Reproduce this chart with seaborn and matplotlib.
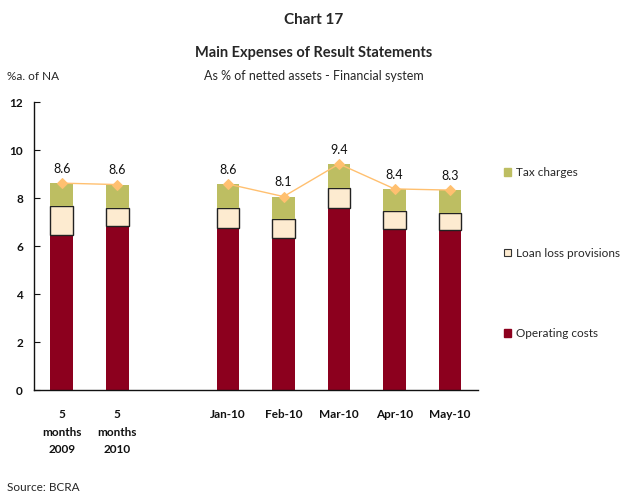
import matplotlib
matplotlib.use("Agg")
import matplotlib.pyplot as plt
import seaborn as sns
import pandas as pd
from matplotlib.patches import Patch

# Data (% annualised of netted assets)
periods = ["5\nmonths\n2009", "5\nmonths\n2010", "Jan-10", "Feb-10", "Mar-10", "Apr-10", "May-10"]
segment = ["cumulative", "cumulative", "monthly", "monthly", "monthly", "monthly", "monthly"]
operating_costs = [6.46, 6.82, 6.74, 6.32, 7.60, 6.72, 6.68]
loan_loss = [1.19, 0.76, 0.84, 0.82, 0.80, 0.72, 0.71]
total = [8.62, 8.56, 8.58, 8.06, 9.42, 8.38, 8.33]
tax_charges = [t - o - l for t, o, l in zip(total, operating_costs, loan_loss)]

# category order with a blank spacer between the cumulative and monthly groups
order = periods[:2] + [" "] + periods[2:]

df = pd.DataFrame({
    "period": periods,
    "segment": segment,
    "op": operating_costs,
    "loan": loan_loss,
    "tax": tax_charges,
    "total": total,
})
df["op_loan"] = df["op"] + df["loan"]

sns.set_theme(style="white")
plt.rcParams["font.family"] = ["Lato", "DejaVu Sans"]

c_op = "#8C001E"
c_loan = "#FDEBD0"
c_tax = "#BDBE62"
c_line = "#FFC070"

fig = plt.figure(figsize=(6.22, 4.94), dpi=100)
ax = fig.add_axes([0.0547, 0.2105, 0.7133, 0.583])

bw = 0.41
sns.barplot(data=df, x="period", y="op", order=order, color=c_op, width=bw,
            errorbar=None, saturation=1, linewidth=0, ax=ax)
sns.barplot(data=df, x="period", y="loan", order=order, color=c_loan, width=bw,
            errorbar=None, saturation=1, bottom=df["op"].values,
            edgecolor="#222222", linewidth=1.0, ax=ax)
sns.barplot(data=df, x="period", y="tax", order=order, color=c_tax, width=bw,
            errorbar=None, saturation=1, bottom=df["op_loan"].values,
            linewidth=0, ax=ax)

sns.pointplot(data=df, x="period", y="total", order=order, hue="segment",
              palette=[c_line, c_line], markers="D", markersize=5,
              linewidth=1.0, errorbar=None, legend=False, ax=ax)

# value labels above each total marker
pos = {p: i for i, p in enumerate(order)}
for p, t in zip(periods, total):
    ax.annotate(f"{t:.1f}", (pos[p], t), xytext=(0, 6), textcoords="offset points",
                ha="center", va="bottom", fontsize=9, color="#111111")

ax.set_xlim(-0.5, len(order) - 0.5)
ax.set_ylim(0, 12)
ax.set_yticks(range(0, 13, 2))
ax.set_xlabel("")
ax.set_ylabel("")
for s in ["top", "right"]:
    ax.spines[s].set_visible(False)
for s in ["left", "bottom"]:
    ax.spines[s].set_color("#111111")
    ax.spines[s].set_linewidth(1.0)
ax.tick_params(axis="y", direction="in", length=4, width=0.8, color="#111111",
               left=True, pad=8, labelsize=8.5)
ax.tick_params(axis="x", bottom=False, pad=8, labelsize=8.5)
for lab in ax.get_yticklabels() + ax.get_xticklabels():
    lab.set_fontweight("bold")
    lab.set_color("#111111")
for lab in ax.get_xticklabels():
    lab.set_linespacing(1.7)

handles = [
    Patch(facecolor=c_tax, edgecolor=c_tax, label="Tax charges"),
    Patch(facecolor=c_loan, edgecolor="#333333", linewidth=0.8, label="Loan loss provisions"),
    Patch(facecolor=c_op, edgecolor=c_op, label="Operating costs"),
]
fig.legend(handles=handles, loc="upper left", bbox_to_anchor=(0.810, 0.662),
           frameon=False, fontsize=8.5, handlelength=0.6, handleheight=0.6,
           handletextpad=0.45, labelspacing=5.9, borderpad=0, borderaxespad=0)

fig.text(0.505, 0.960, "Chart 17", ha="center", va="center", fontsize=11, fontweight="bold")
fig.text(0.505, 0.893, "Main Expenses of Result Statements", ha="center", va="center",
         fontsize=10.5, fontweight="bold")
fig.text(0.505, 0.846, "As % of netted assets - Financial system", ha="center", va="center",
         fontsize=9)
fig.text(0.011, 0.846, "%a. of NA", ha="left", va="center", fontsize=8.5)
fig.text(0.011, 0.014, "Source: BCRA", ha="left", va="center", fontsize=8.5)

fig.savefig("out.png", dpi=100)
